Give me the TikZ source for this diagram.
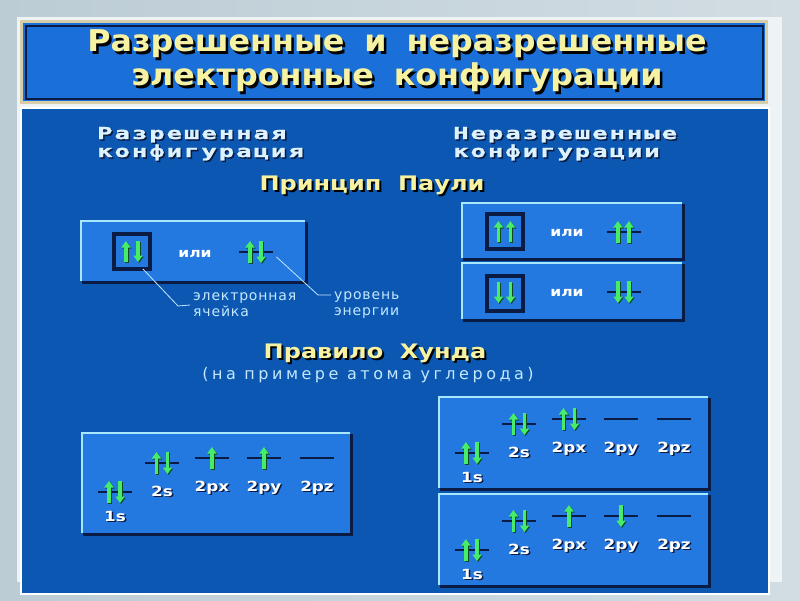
\documentclass[tikz,border=0pt]{standalone}
\usepackage{fontspec}
\usetikzlibrary{arrows.meta,positioning}

\newfontfamily\titlefont{DejaVu Sans Bold}[FakeStretch=1.06,WordSpace=1.8]
\newfontfamily\wideboldfont{DejaVu Sans Bold}[FakeStretch=1.2,WordSpace=2]
\newfontfamily\pixelfont{DejaVu Sans Mono Bold}[FakeStretch=1.55,FakeBold=1.5,LetterSpace=12]
\newfontfamily\thinfont{DejaVu Sans}[LetterSpace=6]
\newfontfamily\thinwide{DejaVu Sans}[LetterSpace=22]

\definecolor{bgleft}{HTML}{BCCCD5}
\definecolor{bgright}{HTML}{D2DDE3}
\definecolor{cardcol}{HTML}{EEF3F6}
\definecolor{panelblue}{HTML}{0B57B2}
\definecolor{boxblue}{HTML}{2479E0}
\definecolor{titleblue}{HTML}{1B6FD8}
\definecolor{navy}{HTML}{0A1C44}
\definecolor{hilite}{HTML}{A8E8FF}
\definecolor{beige}{HTML}{D6CEA8}
\definecolor{spingreen}{HTML}{46EC6A}
\definecolor{spindark}{HTML}{0C4A22}
\definecolor{ttlyellow}{HTML}{F7F2A2}
\definecolor{headcol}{HTML}{DDF2FF}
\definecolor{notecol}{HTML}{C4E8FF}

% text with a drop shadow: shadow colour, offset, text
\newcommand{\shtext}[3]{\leavevmode\rlap{\hspace{#2}\raisebox{-#2}{\color{#1}#3}}#3}

% raised box edges
\newcommand{\bevel}[1]{%
  \draw[hilite, line width=2pt] ([xshift=-1pt]#1.south west) |- ([yshift=1pt]#1.north east);
  \draw[navy, line width=3pt] ([yshift=-1.5pt]#1.south west) -| ([xshift=1.5pt]#1.north east);}

% one spin arrow: x, from y, to y
\newcommand{\spin}[3]{%
  \draw[spinshade] (#1+1,#2+1) -- (#1+1,#3+1);
  \draw[spin] (#1,#2) -- (#1,#3);}

% energy level: x, y, filling (0 none, 1 up, 2 down, 3 pair, 4 up up, 5 down down)
\newcommand{\orbit}[3]{%
  \draw[level] (#1-17,#2) -- (#1+17,#2);
  \ifcase#3\relax
  \or \spin{#1}{#2+11}{#2-11}%
  \or \spin{#1}{#2-11}{#2+11}%
  \or \spin{#1-5.5}{#2+11}{#2-11}\spin{#1+5.5}{#2-11}{#2+11}%
  \or \spin{#1-5.5}{#2+11}{#2-11}\spin{#1+5.5}{#2+11}{#2-11}%
  \or \spin{#1-5.5}{#2-11}{#2+11}\spin{#1+5.5}{#2-11}{#2+11}%
  \fi}

% carbon levels in one box: name, 2px, 2py, 2pz
\newcommand{\orbitals}[4]{%
  \orbit{31.5}{55}{3}
  \orbit{79}{26}{3}
  \orbit{129}{21}{#2}
  \orbit{181}{21}{#3}
  \orbit{233.5}{21}{#4}
  \node[orb] (#1-1s) at (32,84) {\shtext{navy}{1.5pt}{1s}};
  \node[orb] (#1-2s) at (79,59) {\shtext{navy}{1.5pt}{2s}};
  \node[orb] (#1-px) at (129,54) {\shtext{navy}{1.5pt}{2px}};
  \node[orb] (#1-py) at (181,54) {\shtext{navy}{1.5pt}{2py}};
  \node[orb] (#1-pz) at (234,54) {\shtext{navy}{1.5pt}{2pz}};}

\begin{document}
\begin{tikzpicture}[x=1pt,y=-1pt,
  panel/.style={fill=boxblue, inner sep=0pt, outer sep=0pt},
  cellbox/.style={draw=navy, line width=4pt, fill=boxblue, minimum width=36pt, minimum height=35pt, inner sep=0pt, outer sep=0pt},
  level/.style={draw=navy, line width=2.5pt},
  spin/.style={draw=spingreen, line width=3.5pt, -{Triangle[width=9pt,length=6.5pt]}},
  spinshade/.style={draw=spindark, line width=3.5pt, -{Triangle[width=9pt,length=6.5pt]}},
  note/.style={draw=notecol, line width=0.8pt},
  ttl/.style={font=\titlefont\fontsize{30}{34}\selectfont, text=ttlyellow, inner sep=0pt},
  head/.style={font=\pixelfont\fontsize{16.5}{20}\selectfont, text=headcol, anchor=base west, inner sep=0pt},
  rule/.style={font=\wideboldfont\fontsize{20}{24}\selectfont, text=ttlyellow, anchor=base, inner sep=0pt},
  ili/.style={font=\wideboldfont\fontsize{13}{15}\selectfont, text=white, inner sep=0pt},
  notetext/.style={font=\thinfont\fontsize{14}{16}\selectfont, text=notecol, align=left, anchor=west, inner sep=0pt},
  sub/.style={font=\thinwide\fontsize{16}{18}\selectfont, text=notecol, anchor=base, inner sep=0pt},
  orb/.style={font=\wideboldfont\fontsize{14}{16}\selectfont, text=white, anchor=base, inner sep=0pt}
]
\useasboundingbox (0,0) rectangle (800,600);
\shade[left color=bgleft, right color=bgright] (0,0) rectangle (800,600);
\fill[cardcol] (17,17) rectangle (782,582);

% title
\node[draw=beige, line width=3pt, fill=titleblue, minimum width=745, minimum height=81, inner sep=0pt, outer sep=0pt] (ttlbox) at (394,62) {};
\draw[navy, line width=2pt] ([shift={(4,4)}]ttlbox.north west) rectangle ([shift={(-4,-4)}]ttlbox.south east);
\node[ttl] (ttlA) at (397,45) {\shtext{black}{2.5pt}{Разрешенные и неразрешенные}};
\node[ttl] (ttlB) at (397,79) {\shtext{black}{2.5pt}{электронные конфигурации}};

\node[draw=white, line width=2pt, fill=panelblue, minimum width=748, minimum height=486, inner sep=0pt, outer sep=0pt] (mainpanel) at (395,350.5) {};

% headings
\node[head] (okA) at (97,139) {\shtext{navy}{1.5pt}{Разрешенная}};
\node[head] (okB) at (97,157) {\shtext{navy}{1.5pt}{конфигурация}};
\node[head] (badA) at (453,139) {\shtext{navy}{1.5pt}{Неразрешенные}};
\node[head] (badB) at (453,157) {\shtext{navy}{1.5pt}{конфигурации}};
\node[rule] (pauli) at (372,190) {\shtext{black}{2pt}{Принцип Паули}};

% Pauli, allowed
\node[panel, minimum width=223, minimum height=59] (pauliok) at (193.5,251.5) {};
\bevel{pauliok}
\node[cellbox] (cellA) at (132,251.5) {};
\spin{126}{262}{241}
\spin{138}{241}{262}
\node[ili] (iliA) at (195,254) {или};
\orbit{255.5}{252}{3}
\coordinate (lvlA) at (255.5,252);

\node[notetext] (celltext) at (193,305) {электронная\\ячейка};
\node[notetext] (lvltext) at (334,305) {уровень\\энергии};
\coordinate (cellbend) at (178,306);
\coordinate (lvlbend) at (318,295);
\draw[note] ([xshift=-7pt]cellA.south east) -- (cellbend) -- ([xshift=-3pt]celltext.west);
\draw[note] ([shift={(21,5)}]lvlA) -- (lvlbend) -- ([shift={(-3,-10)}]lvltext.west);

% Pauli, forbidden
\node[panel, minimum width=219, minimum height=54] (paulibadA) at (572.5,231) {};
\bevel{paulibadA}
\node[cellbox] (cellB) at (504.5,231.5) {};
\spin{498.5}{242}{221}
\spin{510.5}{242}{221}
\node[ili] (iliB) at (567,233) {или};
\orbit{623.5}{232}{4}

\node[panel, minimum width=219, minimum height=55] (paulibadB) at (572.5,291.5) {};
\bevel{paulibadB}
\node[cellbox] (cellC) at (504.5,293) {};
\spin{498.5}{282}{303}
\spin{510.5}{282}{303}
\node[ili] (iliC) at (567,293) {или};
\orbit{623.5}{292}{5}

% Hund
\node[rule] (hund) at (375,358) {\shtext{black}{2pt}{Правило Хунда}};
\node[sub] (carbon) at (368,379) {(на примере атома углерода)};

\node[panel, minimum width=267, minimum height=99] (hundok) at (216.5,483.5) {};
\bevel{hundok}
\begin{scope}[shift={(83,437)}]
\orbitals{hA}{1}{1}{0}
\end{scope}

\node[panel, minimum width=268, minimum height=90] (hundbadA) at (574,443) {};
\bevel{hundbadA}
\begin{scope}[shift={(440,398)}]
\orbitals{hB}{3}{0}{0}
\end{scope}

\node[panel, minimum width=268, minimum height=90] (hundbadB) at (574,540) {};
\bevel{hundbadB}
\begin{scope}[shift={(440,495)}]
\orbitals{hC}{1}{2}{0}
\end{scope}
\end{tikzpicture}
\end{document}
